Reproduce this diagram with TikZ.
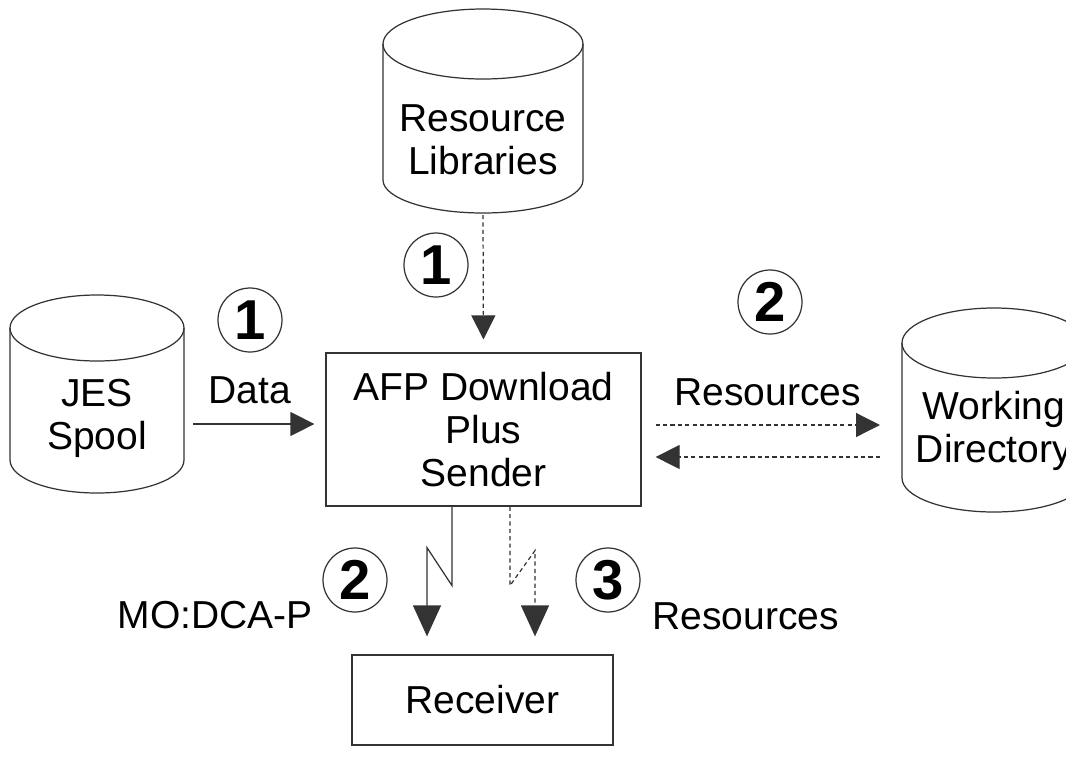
\documentclass[tikz,border=0pt]{standalone}
\usepackage{fontspec}
\setmainfont{Liberation Sans}
\usetikzlibrary{arrows.meta}
\tikzset{
	line/.style = {draw=black!80, line width=0.7pt},
	box/.style = {line, rectangle, align=center},
	lbl/.style = {align=center},
	numc/.style = {line, circle, minimum size=1.28cm, inner sep=0pt, font=\fontsize{32}{32}\selectfont\bfseries},
	dotline/.style = {dash pattern=on 2.4pt off 1.8pt},
	tip/.style = {-{Triangle[length=0.48cm, width=0.48cm]}},
	bigtip/.style = {-{Triangle[length=0.62cm, width=0.56cm]}}
}
\begin{document}
\begin{tikzpicture}[font=\fontsize{22.2}{24.5}\selectfont]
		\useasboundingbox (0,0) rectangle (21.32,-15.2);

		% drums
		\draw[line] (9.66,-0.88) ellipse [x radius=2, y radius=0.7];
		\draw[line] (7.66,-0.88) -- (7.66,-3.6) arc [start angle=180, end angle=360, x radius=2, y radius=0.66] -- (11.66,-0.88);
		\draw[line] (1.94,-6.56) ellipse [x radius=1.74, y radius=0.66];
		\draw[line] (0.2,-6.56) -- (0.2,-9.2) arc [start angle=180, end angle=360, x radius=1.74, y radius=0.66] -- (3.68,-6.56);
		\draw[line] (19.88,-6.86) ellipse [x radius=1.84, y radius=0.7];
		\draw[line] (18.04,-6.86) -- (18.04,-9.56) arc [start angle=180, end angle=360, x radius=1.84, y radius=0.68] -- (21.72,-6.86);

		\draw (9.66,-2.8) node[lbl] (reslib) {Resource\\Libraries};
		\draw (1.94,-8.37) node[lbl] (jes) {JES\\Spool};
		\draw (19.88,-8.62) node[lbl] (wd) {Working\\Directory};

		\coordinate (reslib-out) at (9.66,-4.3);
		\coordinate (jes-out) at (3.86,-8.48);
		\coordinate (wd-in) at (17.6,-8.5);
		\coordinate (wd-out) at (17.6,-9.14);

		% boxes
		\draw (9.67,-8.59) node[box, minimum width=6.3cm, minimum height=3.06cm] (afp) {AFP Download\\Plus\\Sender};
		\draw (9.65,-14.0) node[box, minimum width=5.22cm, minimum height=1.8cm] (recv) {Receiver};

		% steps
		\draw (8.72,-5.3) node[numc] (n1a) {1};
		\draw (5.0,-6.4) node[numc] (n1b) {1};
		\draw (15.4,-6.04) node[numc] (n2a) {2};
		\draw (7.1,-11.6) node[numc] (n2b) {2};
		\draw (12.16,-11.6) node[numc] (n3) {3};

		\draw (5.0,-7.8) node (data) {Data};
		\draw (15.35,-7.84) node (res1) {Resources};
		\draw (6.26,-12.3) node[left, inner sep=0pt] (mo) {MO:DCA-P};
		\draw (13.04,-12.32) node[right, inner sep=0pt] (res2) {Resources};

		% flows
		\draw[line, dotline, tip, shorten >=0.26cm] (reslib-out) -- (afp.north);
		\draw[line, tip, shorten >=0.22cm] (jes-out) -- (afp.west |- jes-out);
		\draw[line, dotline, tip, shorten <=0.28cm] (afp.east |- wd-in) -- (wd-in);
		\draw[line, dotline, tip, shorten >=0.28cm] (wd-out) -- (afp.east |- wd-out);
		\draw[line, bigtip, shorten >=0.36cm] ([xshift=-0.63cm]afp.south) -- ++(0,-1.58) -- ++(-0.5,0.76) coordinate (b1) -- (b1 |- recv.north);
		\draw[line, dotline, bigtip, shorten >=0.36cm] ([xshift=0.53cm]afp.south) -- ++(0,-1.58) -- ++(0.5,0.7) coordinate (b2) -- (b2 |- recv.north);
	\end{tikzpicture}
\end{document}
